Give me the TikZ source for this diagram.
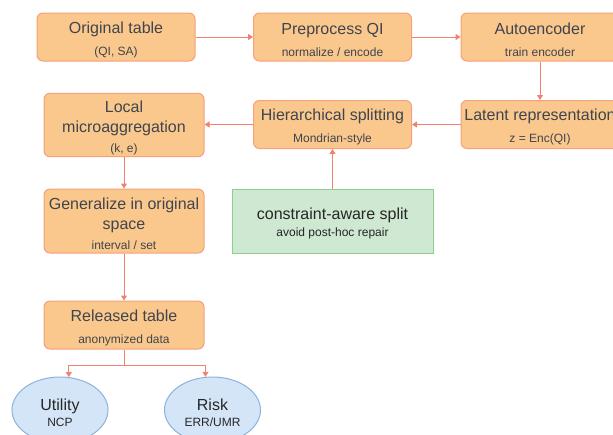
\documentclass[tikz,border=0pt]{standalone}
\usepackage{fontspec}
\setmainfont{Liberation Sans}
\usetikzlibrary{arrows.meta,shapes.geometric}

\definecolor{boxfill}{RGB}{250,200,140}
\definecolor{boxline}{RGB}{246,160,125}
\definecolor{linkc}{RGB}{240,130,110}
\definecolor{notefill}{RGB}{206,232,210}
\definecolor{noteline}{RGB}{140,208,140}
\definecolor{metfill}{RGB}{212,229,247}
\definecolor{metline}{RGB}{140,178,222}
\definecolor{boxtext}{RGB}{64,68,78}

\newcommand{\boxtitle}{\fontsize{16}{20}\selectfont}
\newcommand{\boxnote}{\fontsize{12}{20}\selectfont}
\newcommand{\topstrut}{\rule{0pt}{17pt}}

\tikzset{
  stepbox/.style={draw=boxline, fill=boxfill, line width=1pt, rounded corners=6pt,
    minimum width=158pt, minimum height=48pt, align=center, text=boxtext, inner sep=2pt,
    font=\fontsize{12}{20}\selectfont},
  splitnote/.style={draw=noteline, fill=notefill, line width=1pt,
    minimum width=201pt, minimum height=64pt, align=center, text=black!85, inner sep=2pt,
    font=\fontsize{12}{17}\selectfont},
  metric/.style={ellipse, draw=metline, fill=metfill, line width=1pt,
    minimum width=96pt, minimum height=66pt, align=center, text=black!85, inner sep=1pt,
    font=\fontsize{12}{16}\selectfont},
  flow/.style={draw=linkc, line width=1pt, -{Triangle[length=5pt,width=6pt]}}
}

\begin{document}
\begin{tikzpicture}[x=1pt,y=1pt]
  \clip (0,0) rectangle (613,-434);

  % Top row
  \node[stepbox] (orig) at (116,-37) {\boxtitle\topstrut Original table\\[2pt]\boxnote (QI, SA)};
  \node[stepbox] (prep) at (332.5,-37) {\boxtitle\topstrut Preprocess QI\\[2pt]\boxnote normalize / encode};
  \node[stepbox] (auto) at (540,-37) {\boxtitle\topstrut Autoencoder\\[2pt]\boxnote train encoder};

  % Second row
  \node[stepbox] (latent) at (540,-124.5) {\boxtitle\topstrut Latent representation\\[2pt]\boxnote z = Enc(QI)};
  \node[stepbox] (hier) at (332.5,-124.5) {\boxtitle\topstrut Hierarchical splitting\\[2pt]\boxnote Mondrian-style};
  \node[stepbox, minimum width=160pt, minimum height=60pt] (local) at (124,-125)
    {\boxtitle\topstrut Local\\\boxtitle microaggregation\\\boxnote (k, e)};

  % Left column and constraint
  \node[stepbox, minimum width=160pt, minimum height=64pt] (gen) at (124,-221)
    {\boxtitle\topstrut Generalize in original\\\boxtitle space\\\boxnote interval / set};
  \node[splitnote] (cons) at (332.5,-221)
    {\boxtitle\topstrut constraint-aware split\\\boxnote avoid post-hoc repair};
  \node[stepbox, minimum width=160pt] (rel) at (124,-325)
    {\boxtitle\topstrut Released table\\[2pt]\boxnote anonymized data};

  % Evaluation
  \node[metric] (util) at (60,-410) {\boxtitle\topstrut Utility\\\boxnote NCP};
  \node[metric] (risk) at (212.5,-410) {\boxtitle\topstrut Risk\\\boxnote ERR/UMR};

  % Connectors
  \draw[flow] (orig) -- (prep);
  \draw[flow] (prep) -- (auto);
  \draw[flow] (auto) -- (latent);
  \draw[flow] (latent) -- (hier);
  \draw[flow] (hier) -- (local.east |- hier);
  \draw[flow] (cons) -- (hier);
  \draw[flow] (local) -- (gen);
  \draw[flow] (gen) -- (rel);
  \coordinate (fork) at (124,-365);
  \draw[flow] (rel.south) -- (fork) -| (util.75);
  \draw[flow] (fork) -| (risk.102);
\end{tikzpicture}
\end{document}
